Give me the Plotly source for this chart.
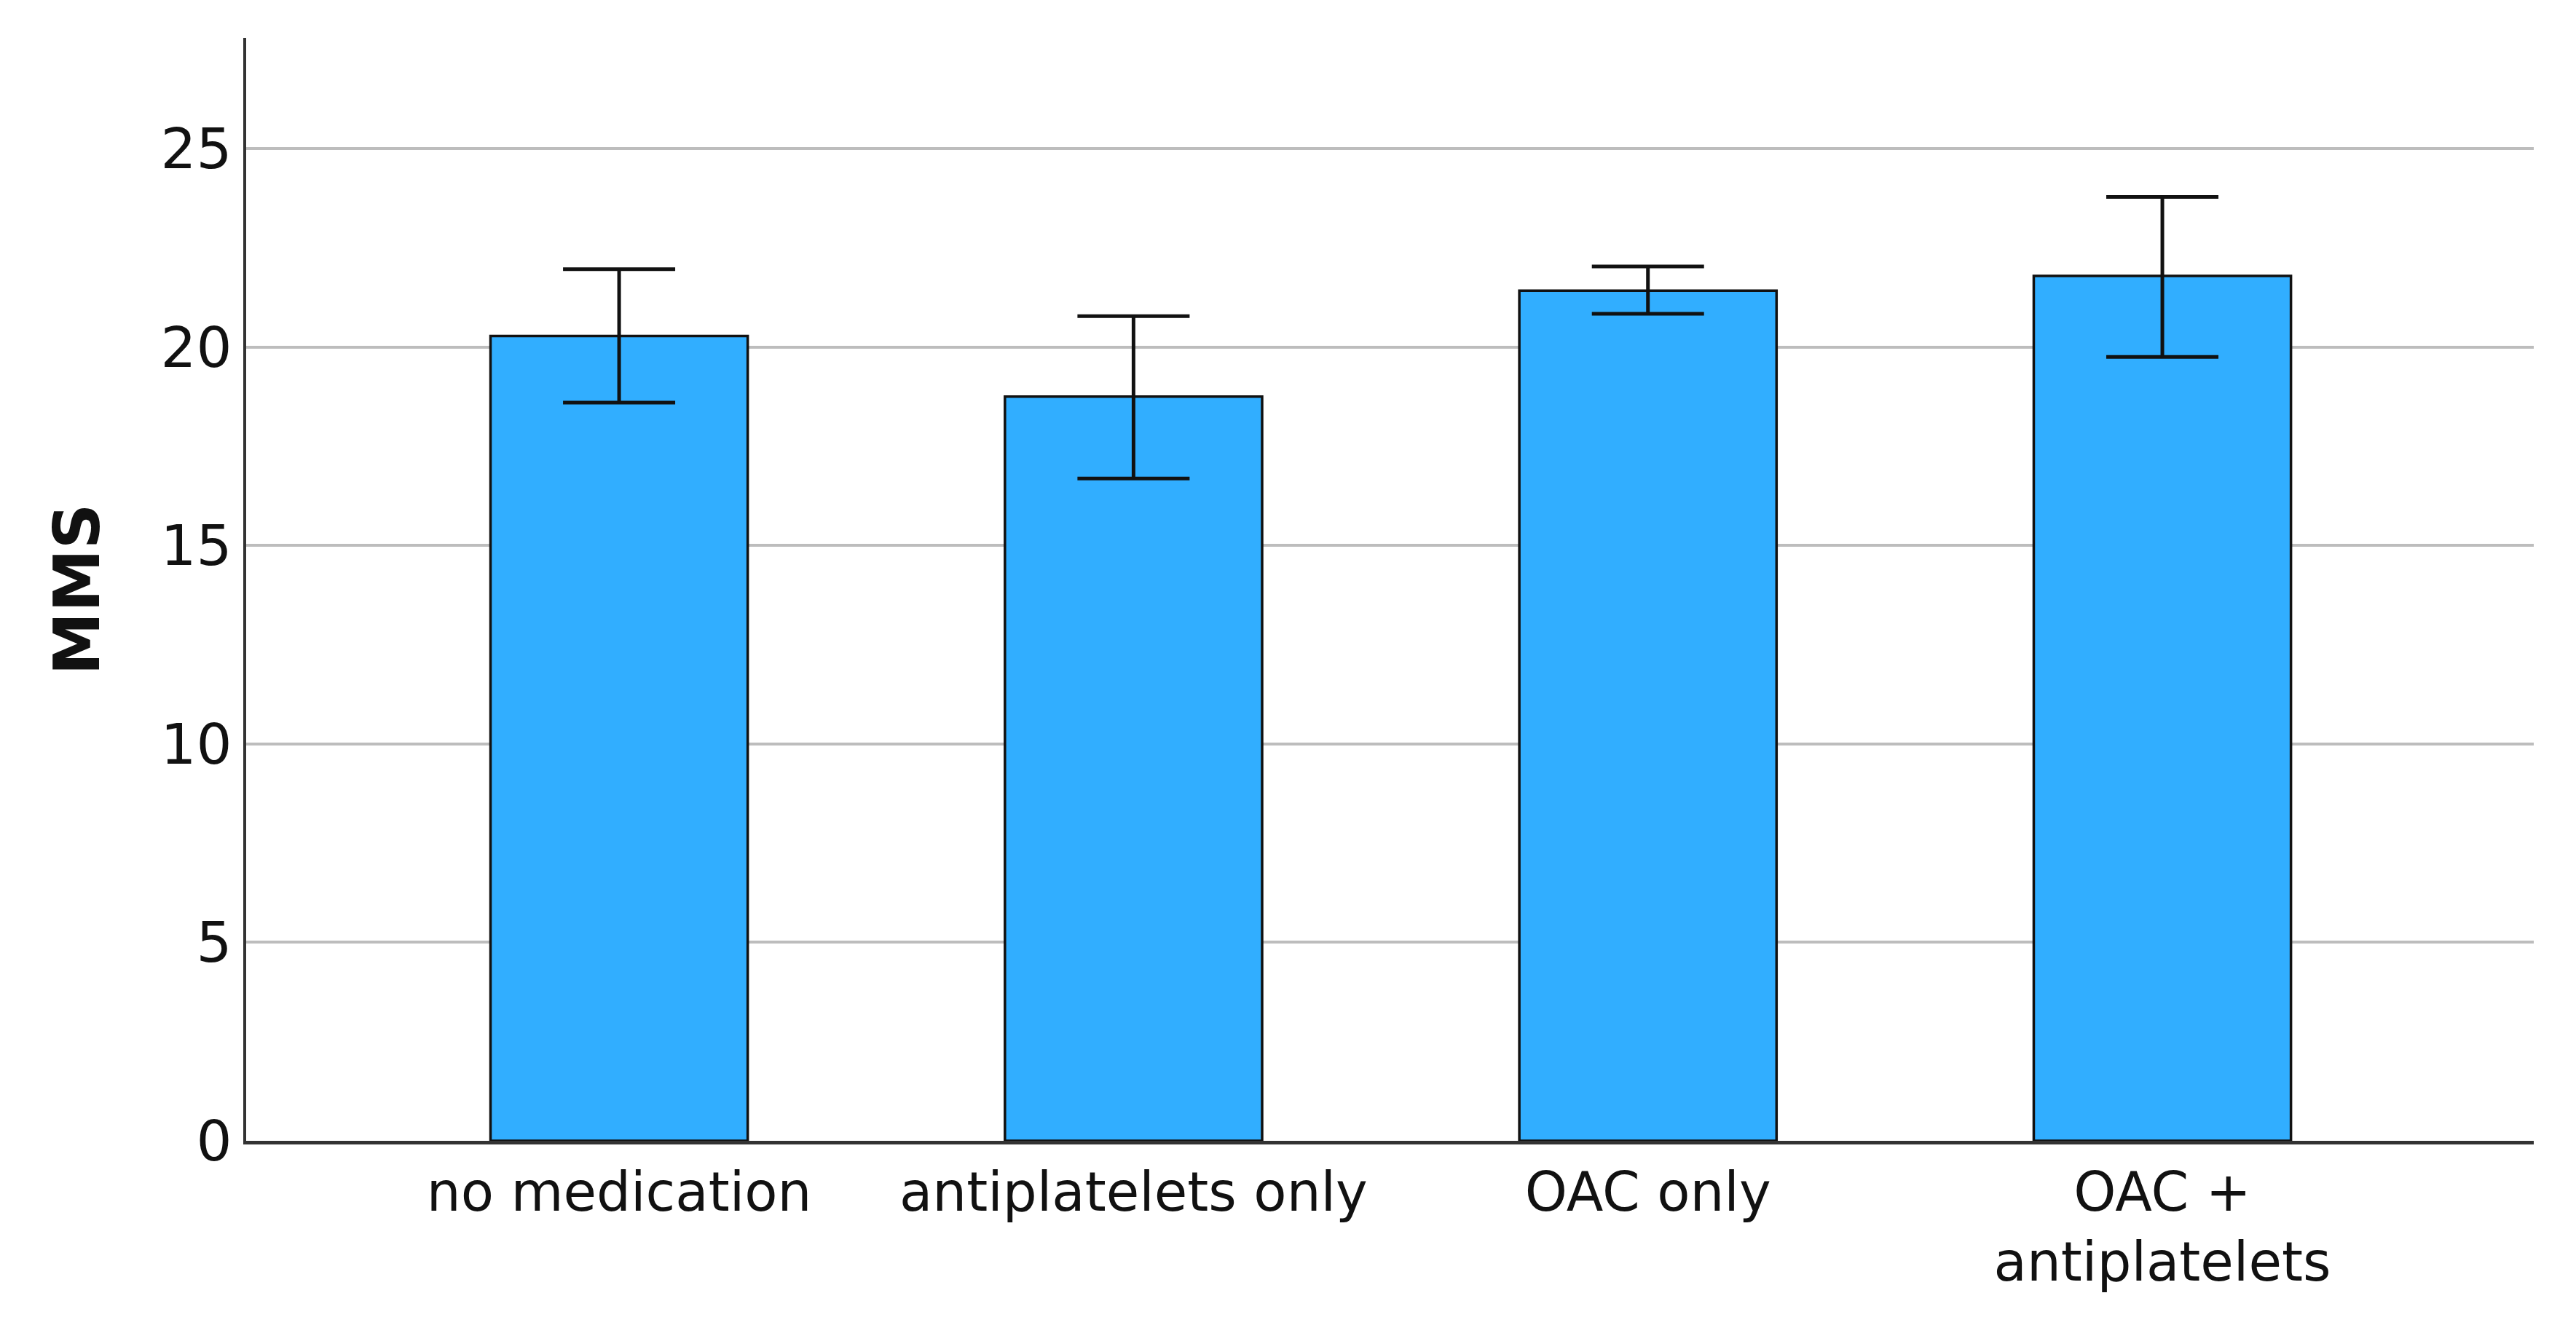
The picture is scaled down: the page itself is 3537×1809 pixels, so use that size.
import plotly.graph_objects as go

categories = ["no medication", "antiplatelets only", "OAC only", "OAC +<br>antiplatelets"]
means = [20.28, 18.75, 21.42, 21.79]
err_plus = [1.68, 2.03, 0.61, 1.99]
err_minus = [1.68, 2.06, 0.58, 2.04]
y_ticks = [0, 5, 10, 15, 20, 25]

fig = go.Figure()
fig.add_trace(go.Bar(
    x=categories,
    y=means,
    width=0.5,
    marker=dict(color="#31AEFF", line=dict(color="#111111", width=3.5)),
    error_y=dict(type="data", symmetric=False, array=err_plus, arrayminus=err_minus,
                 color="#111111", thickness=5, width=77, visible=True),
))

# page body has an 8px default margin; figure sized so it fills the window exactly
fig.update_layout(
    width=3521, height=1793,
    margin=dict(l=330, r=50, t=44, b=234),
    paper_bgcolor="white", plot_bgcolor="white",
    showlegend=False,
    font=dict(family="DejaVu Sans", size=74, color="#111111"),
)
fig.update_xaxes(
    range=[-0.725, 3.722],
    showgrid=False,
    showline=True, linecolor="#333333", linewidth=5,
    ticks="", ticklabelstandoff=2,
    tickfont=dict(size=74),
)
fig.update_yaxes(
    range=[0, 27.79],
    tickvals=y_ticks,
    showgrid=True, gridcolor="#BDBDBD", gridwidth=3.5,
    zeroline=False,
    showline=True, linecolor="#333333", linewidth=4,
    ticks="", ticklabelstandoff=0,
    tickfont=dict(size=77),
    title=dict(text="<b>MMS</b>", font=dict(size=87), standoff=56),
)

fig.write_html("out.html")
